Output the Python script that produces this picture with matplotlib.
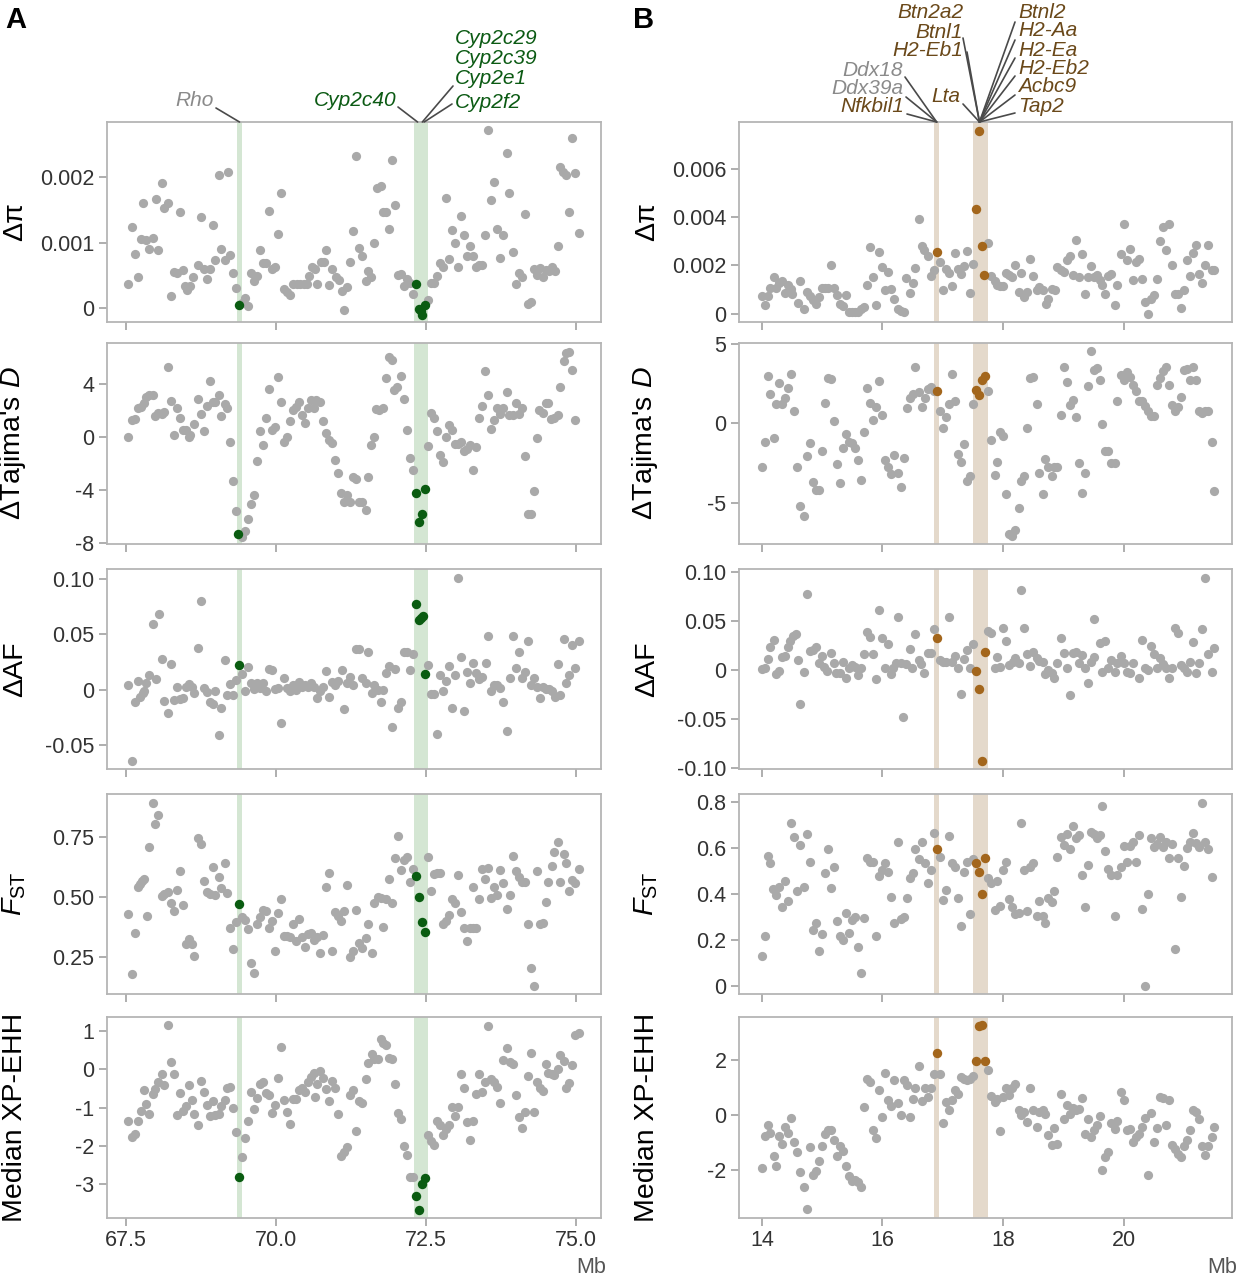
import matplotlib
matplotlib.use('Agg')
import matplotlib.pyplot as plt

plt.rcParams['font.family'] = ['Liberation Sans', 'DejaVu Sans']
plt.rcParams['mathtext.fontset'] = 'custom'
plt.rcParams['mathtext.rm'] = 'Liberation Sans'
plt.rcParams['mathtext.it'] = 'Liberation Sans:italic'
plt.rcParams['axes.unicode_minus'] = False

# ---------------- data: panel A (chr7, Mb) ----------------
# delta pi in units of 1e-3
dpi_a = [(67.53,0.36),(67.59,1.24),(67.64,0.83),(67.69,0.47),(67.74,1.05),(67.78,1.61),(67.83,1.04),(67.88,0.90),(67.94,1.07),(67.99,1.66),
         (68.03,0.88),(68.09,1.91),(68.13,1.52),(68.19,1.60),(68.24,0.19),(68.29,0.55),(68.34,0.54),(68.39,1.46),(68.44,0.58),(68.48,0.33),
         (68.52,0.28),(68.57,0.33),(68.62,0.47),(68.69,0.65),(68.74,1.39),(68.79,0.59),(68.84,0.44),(68.89,0.59),(68.94,1.27),(68.98,0.74),
         (69.04,2.03),(69.08,0.90),(69.14,0.74),(69.19,2.07),(69.23,0.81),(69.28,0.54),(69.33,0.30),(69.43,0.08),(69.48,0.15),(69.54,0.03),
         (69.59,0.54),(69.64,0.41),(69.69,0.49),(69.74,0.88),(69.79,0.69),(69.84,0.69),(69.89,1.48),(69.94,0.60),(69.99,0.63),(70.04,1.13),
         (70.09,1.75),(70.14,0.29),(70.19,0.24),(70.24,0.20),(70.29,0.36),(70.35,0.36),(70.40,0.37),(70.46,0.37),(70.51,0.36),(70.55,0.49),
         (70.60,0.63),(70.65,0.59),(70.69,0.37),(70.75,0.71),(70.80,0.70),(70.84,0.88),(70.89,0.35),(70.94,0.59),(71.00,0.48),(71.05,0.43),
         (71.10,0.26),(71.14,-0.03),(71.19,0.32),(71.24,0.71),(71.29,1.18),(71.34,2.32),(71.39,0.91),(71.44,0.79),(71.50,0.42),(71.54,0.56),
         (71.59,0.47),(71.64,0.99),(71.69,1.83),(71.75,1.86),(71.79,1.47),(71.84,1.46),(71.89,1.21),(71.94,2.26),(71.99,1.58),(72.04,0.50),
         (72.09,0.52),(72.14,0.34),(72.19,0.44),(72.24,0.38),(72.29,0.22),(72.53,0.13),(72.58,0.38),(72.63,0.38),(72.68,0.49),(72.74,0.69),
         (72.79,0.62),(72.84,1.68),(72.89,0.75),(72.94,1.19),(72.99,0.99),(73.04,0.62),(73.09,1.41),(73.14,1.12),(73.19,0.80),(73.24,0.94),
         (73.29,0.79),(73.34,0.62),(73.39,0.66),(73.44,0.66),(73.49,1.12),(73.54,2.72),(73.59,1.65),(73.64,1.92),(73.69,1.21),(73.74,0.76),
         (73.79,1.12),(73.85,2.37),(73.89,1.76),(73.95,0.85),(74.00,0.36),(74.05,0.53),(74.10,0.48),(74.15,1.44),(74.20,0.06),(74.25,0.09),
         (74.31,0.60),(74.36,0.51),(74.41,0.61),(74.46,0.48),(74.51,0.58),(74.56,0.56),(74.61,0.63),(74.66,0.57),(74.70,0.95),(74.74,2.16),
         (74.79,2.08),(74.84,2.03),(74.89,1.46),(74.94,2.60),(74.99,2.06),(75.05,1.14)]
dpi_a_hl = [(69.38,0.04),(72.34,0.37),(72.38,-0.02),(72.41,-0.05),(72.43,-0.10),(72.48,0.04)]

tajd_a = [(67.53,0.0),(67.59,1.31),(67.64,1.39),(67.69,2.22),(67.74,2.27),(67.79,2.58),(67.83,3.03),(67.88,3.16),(67.94,3.21),(67.98,1.57),
          (68.03,1.82),(68.09,1.77),(68.13,1.89),(68.19,5.28),(68.24,2.73),(68.29,0.13),(68.34,2.17),(68.39,1.46),(68.44,0.56),(68.49,0.51),
          (68.54,0.0),(68.57,0.20),(68.63,0.96),(68.69,2.88),(68.74,1.77),(68.79,0.45),(68.84,2.32),(68.89,4.24),(68.94,2.65),(68.98,2.65),
          (69.04,3.16),(69.08,1.62),(69.14,2.53),(69.18,2.22),(69.23,-0.38),(69.28,-3.28),(69.33,-5.56),(69.43,-7.50),(69.48,-7.07),(69.53,-6.19),
          (69.59,-5.05),(69.64,-4.37),(69.69,-1.77),(69.74,0.45),(69.79,-0.56),(69.84,1.46),(69.89,3.64),(69.94,0.56),(69.99,0.76),(70.04,4.52),
          (70.09,2.65),(70.13,-0.38),(70.18,0.0),(70.24,1.19),(70.29,2.07),(70.34,2.27),(70.38,2.65),(70.44,1.64),(70.48,1.06),(70.53,2.20),
          (70.59,2.83),(70.63,2.22),(70.67,2.78),(70.73,2.65),(70.78,1.21),(70.83,0.33),(70.88,-0.20),(70.93,-0.45),(70.98,-1.72),(71.04,-2.73),
          (71.08,-4.17),(71.13,-4.92),(71.18,-4.34),(71.23,-4.92),(71.28,-2.98),(71.33,-3.16),(71.38,-4.92),(71.43,-4.92),(71.50,-5.48),(71.54,-3.03),
          (71.58,-0.56),(71.64,0.05),(71.67,2.10),(71.72,2.02),(71.79,2.17),(71.83,4.49),(71.89,6.01),(71.94,5.81),(71.97,3.59),(72.01,3.79),
          (72.09,4.60),(72.14,2.91),(72.19,0.51),(72.24,-1.59),(72.29,-2.45),(72.54,-0.63),(72.59,1.82),(72.64,1.46),(72.69,0.45),(72.74,-1.34),
          (72.79,-1.89),(72.84,0.0),(72.89,0.93),(72.94,0.51),(72.99,-0.51),(73.04,-0.51),(73.09,-0.38),(73.14,-1.06),(73.19,-0.88),(73.24,-0.58),
          (73.29,-2.47),(73.34,-0.71),(73.39,1.46),(73.44,2.32),(73.49,5.0),(73.54,3.16),(73.59,0.61),(73.64,1.26),(73.69,2.20),(73.74,1.77),
          (73.79,2.22),(73.85,3.41),(73.89,1.67),(73.95,1.67),(74.00,2.58),(74.05,1.77),(74.10,2.22),(74.15,-1.39),(74.20,-5.81),(74.25,-5.81),
          (74.31,-4.04),(74.35,-0.08),(74.39,2.07),(74.45,1.82),(74.50,2.58),(74.54,2.58),(74.59,1.39),(74.64,1.46),(74.70,1.67),(74.74,3.79),
          (74.80,5.76),(74.84,6.36),(74.89,6.41),(74.94,5.10),(74.99,1.26)]
tajd_a_hl = [(69.37,-7.27),(72.34,-4.17),(72.38,-6.41),(72.43,-5.76),(72.49,-3.89)]

daf_a = [(67.53,0.0045),(67.59,-0.064),(67.64,-0.011),(67.69,0.008),(67.73,-0.006),(67.78,-0.003),(67.80,-0.001),(67.83,0.006),(67.88,0.013),(67.94,0.059),
         (67.99,0.010),(68.04,0.068),(68.09,0.028),(68.13,-0.010),(68.19,-0.021),(68.24,0.023),(68.29,-0.009),(68.34,0.0024),(68.39,-0.008),(68.44,-0.007),
         (68.49,0.0024),(68.54,0.0057),(68.59,0.003),(68.63,-0.003),(68.69,0.038),(68.74,0.080),(68.79,0.002),(68.84,-0.0015),(68.89,-0.0105),(68.94,-0.013),
         (68.98,-0.001),(69.04,-0.041),(69.08,-0.0165),(69.14,0.027),(69.18,-0.005),(69.23,0.005),(69.28,-0.005),(69.33,0.0087),(69.43,0.0144),(69.48,-0.001),
         (69.53,0.021),(69.58,0.006),(69.64,0.001),(69.69,0.006),(69.74,0.002),(69.79,0.006),(69.84,-0.001),(69.89,0.0186),(69.94,0.018),(69.99,0.001),
         (70.04,0.002),(70.09,-0.030),(70.14,0.0105),(70.18,0.002),(70.24,-0.001),(70.29,0.0045),(70.34,0.0),(70.38,0.007),(70.44,0.003),(70.49,0.0045),
         (70.53,0.0024),(70.59,0.0066),(70.63,0.0024),(70.69,-0.007),(70.73,-0.001),(70.78,0.003),(70.84,0.017),(70.88,-0.006),(70.94,0.0075),(70.98,0.004),
         (71.04,0.008),(71.10,0.018),(71.14,-0.0175),(71.19,0.006),(71.24,0.0114),(71.29,0.0045),(71.33,0.037),(71.39,0.0367),(71.44,0.0105),(71.50,0.006),
         (71.54,0.0346),(71.60,-0.0024),(71.64,0.0045),(71.70,0.0),(71.75,-0.0105),(71.79,0.0),(71.84,0.015),(71.89,0.0216),(71.94,-0.033),(71.99,0.019),
         (72.04,-0.0165),(72.09,-0.0105),(72.13,0.0346),(72.19,0.034),(72.24,0.018),(72.29,0.0325),(72.54,0.0226),(72.59,-0.004),(72.64,-0.004),(72.68,-0.040),
         (72.74,0.0135),(72.79,-0.0006),(72.84,0.008),(72.89,0.022),(72.94,-0.0165),(72.99,0.013),(73.04,0.101),(73.09,0.030),(73.14,-0.0186),(73.19,0.016),
         (73.24,0.0066),(73.29,0.024),(73.34,0.015),(73.39,0.0096),(73.44,0.0114),(73.50,0.024),(73.54,0.0487),(73.59,-0.001),(73.64,0.0045),(73.69,0.0045),
         (73.74,0.002),(73.79,-0.0105),(73.85,-0.037),(73.90,0.0105),(73.95,0.0487),(74.00,0.0195),(74.05,0.034),(74.10,0.011),(74.15,0.0165),(74.20,0.0445),
         (74.25,0.0045),(74.30,0.011),(74.35,0.003),(74.40,-0.0075),(74.46,0.003),(74.50,0.001),(74.56,0.001),(74.60,-0.0006),(74.65,-0.006),(74.70,0.0234),
         (74.74,-0.0045),(74.80,0.0457),(74.84,0.006),(74.89,0.013),(74.94,0.0406),(74.99,0.0195),(75.05,0.044)]
daf_a_hl = [(69.38,0.0226),(72.34,0.0776),(72.38,0.063),(72.41,0.065),(72.45,0.067),(72.49,0.0144)]

fst_a = [(67.53,0.43),(67.59,0.18),(67.64,0.35),(67.69,0.543),(67.73,0.552),(67.76,0.568),(67.80,0.575),(67.84,0.423),(67.88,0.706),(67.94,0.891),
         (67.98,0.802),(68.03,0.838),(68.09,0.504),(68.13,0.512),(68.19,0.522),(68.24,0.477),(68.29,0.442),(68.34,0.529),(68.39,0.609),(68.44,0.465),
         (68.49,0.305),(68.54,0.325),(68.59,0.305),(68.63,0.257),(68.69,0.746),(68.74,0.72),(68.79,0.568),(68.84,0.519),(68.89,0.512),(68.94,0.626),
         (68.98,0.508),(69.04,0.584),(69.08,0.536),(69.14,0.642),(69.18,0.515),(69.23,0.373),(69.28,0.283),(69.33,0.398),(69.43,0.416),(69.48,0.405),
         (69.53,0.367),(69.58,0.225),(69.64,0.186),(69.69,0.388),(69.74,0.418),(69.79,0.446),(69.84,0.442),(69.89,0.370),(69.94,0.40),(69.99,0.278),
         (70.04,0.432),(70.09,0.492),(70.14,0.338),(70.19,0.338),(70.24,0.336),(70.29,0.388),(70.34,0.319),(70.38,0.407),(70.44,0.333),(70.49,0.294),
         (70.53,0.347),(70.59,0.352),(70.63,0.322),(70.69,0.336),(70.73,0.269),(70.78,0.343),(70.84,0.54),(70.88,0.601),(70.94,0.276),(70.98,0.439),
         (71.04,0.421),(71.09,0.402),(71.14,0.443),(71.19,0.55),(71.24,0.253),(71.29,0.278),(71.33,0.446),(71.39,0.308),(71.44,0.287),(71.50,0.329),
         (71.54,0.387),(71.60,0.269),(71.64,0.474),(71.70,0.501),(71.75,0.494),(71.79,0.374),(71.84,0.49),(71.89,0.575),(71.94,0.477),(71.99,0.66),
         (72.04,0.753),(72.09,0.612),(72.14,0.653),(72.19,0.667),(72.24,0.564),(72.29,0.615),(72.54,0.664),(72.59,0.526),(72.64,0.595),(72.68,0.598),
         (72.74,0.601),(72.79,0.388),(72.84,0.40),(72.89,0.425),(72.94,0.492),(72.99,0.477),(73.04,0.591),(73.09,0.439),(73.14,0.370),(73.19,0.318),
         (73.24,0.370),(73.29,0.370),(73.34,0.370),(73.29,0.54),(73.39,0.492),(73.44,0.615),(73.49,0.573),(73.54,0.619),(73.59,0.494),(73.64,0.54),
         (73.69,0.508),(73.74,0.612),(73.79,0.557),(73.85,0.449),(73.90,0.508),(73.95,0.67),(74.00,0.608),(74.05,0.584),(74.10,0.564),(74.15,0.564),
         (74.20,0.388),(74.25,0.207),(74.30,0.133),(74.35,0.609),(74.40,0.387),(74.45,0.391),(74.50,0.481),(74.54,0.564),(74.60,0.628),(74.64,0.688),
         (74.70,0.729),(74.74,0.564),(74.80,0.677),(74.84,0.64),(74.89,0.525),(74.94,0.57),(74.99,0.557),(75.05,0.615)]
fst_a_hl = [(69.38,0.471),(72.34,0.588),(72.39,0.501),(72.43,0.398),(72.49,0.356)]

xpehh_a = [(67.53,-1.36),(67.59,-1.78),(67.64,-1.68),(67.69,-1.34),(67.74,-1.10),(67.79,-0.54),(67.83,-0.90),(67.88,-1.18),(67.94,-0.64),(67.98,-0.51),
           (68.03,-0.33),(68.09,-0.11),(68.13,-0.40),(68.19,1.15),(68.24,0.18),(68.29,-0.13),(68.34,-1.19),(68.39,-0.62),(68.44,-1.08),(68.49,-0.97),
           (68.54,-0.42),(68.59,-0.80),(68.63,-1.17),(68.69,-1.45),(68.74,-0.31),(68.79,-0.60),(68.84,-0.92),(68.89,-1.21),(68.94,-0.83),(68.98,-1.19),
           (69.04,-1.17),(69.08,-0.97),(69.14,-0.80),(69.18,-0.48),(69.23,-0.46),(69.28,-1.02),(69.33,-1.63),(69.43,-2.29),(69.48,-1.80),(69.53,-1.36),
           (69.58,-0.60),(69.64,-1.04),(69.69,-0.75),(69.74,-0.39),(69.79,-0.33),(69.84,-0.62),(69.89,-0.68),(69.94,-1.15),(69.99,-0.93),(70.04,-0.23),
           (70.09,0.59),(70.14,-0.80),(70.19,-1.12),(70.24,-1.43),(70.29,-0.77),(70.34,-0.77),(70.38,-0.55),(70.44,-0.48),(70.49,-0.60),(70.53,-0.33),
           (70.59,-0.20),(70.63,-0.10),(70.65,-0.73),(70.69,-0.38),(70.74,-0.05),(70.78,-0.22),(70.84,-0.51),(70.88,-0.83),(70.94,-0.31),(70.98,-0.48),
           (71.04,-1.17),(71.09,-2.26),(71.14,-2.15),(71.19,-2.03),(71.24,-0.68),(71.29,-0.55),(71.34,-1.61),(71.39,-0.82),(71.44,-0.89),(71.50,-0.26),
           (71.54,0.17),(71.60,0.39),(71.64,0.28),(71.70,0.28),(71.75,0.79),(71.79,0.68),(71.84,0.63),(71.89,0.31),(71.94,0.28),(71.99,-0.38),
           (72.04,-1.15),(72.09,-1.31),(72.14,-2.0),(72.19,-2.25),(72.24,-2.83),(72.29,-2.81),(72.54,-1.72),(72.59,-1.87),(72.64,-1.97),(72.68,-1.34),
           (72.74,-1.45),(72.78,-1.71),(72.84,-1.56),(72.89,-1.45),(72.94,-0.99),(72.99,-1.21),(73.04,-0.99),(73.09,-0.11),(73.14,-0.48),(73.19,-1.39),
           (73.24,-1.84),(73.29,-1.36),(73.34,-0.64),(73.39,-0.11),(73.44,-0.58),(73.49,-0.33),(73.54,1.13),(73.59,-0.26),(73.64,-0.32),(73.69,-0.45),
           (73.74,-0.89),(73.79,0.25),(73.85,0.57),(73.90,0.19),(73.95,0.13),(74.00,-0.68),(74.05,-1.24),(74.10,-1.54),(74.15,-1.12),(74.20,-0.18),
           (74.25,0.44),(74.30,-1.12),(74.36,-0.33),(74.40,-0.49),(74.45,-0.57),(74.50,0.15),(74.54,-0.10),(74.60,-0.11),(74.64,-0.16),(74.70,0.02),
           (74.74,0.37),(74.80,0.21),(74.84,-0.48),(74.89,-0.36),(74.94,0.11),(74.99,0.89),(75.05,0.96)]
xpehh_a_hl = [(69.39,-2.82),(72.34,-3.32),(72.39,-3.67),(72.44,-2.99),(72.49,-2.85)]

# ---------------- data: panel B (chr17, Mb) ----------------
dpi_b = [(14.00,0.72),(14.05,0.34),(14.10,0.72),(14.14,1.08),(14.20,1.52),(14.24,1.08),(14.29,1.27),(14.33,1.35),(14.38,0.86),(14.43,1.17),
         (14.49,1.03),(14.50,0.83),(14.60,0.44),(14.64,1.35),(14.70,0.21),(14.75,0.90),(14.79,0.72),(14.85,0.58),(14.90,0.41),(14.94,0.69),
         (15.00,1.08),(15.04,1.08),(15.10,1.08),(15.15,2.00),(15.19,1.08),(15.24,0.76),(15.29,0.39),(15.34,0.30),(15.40,0.76),(15.44,0.07),
         (15.50,0.07),(15.54,0.07),(15.59,0.07),(15.65,0.21),(15.70,0.28),(15.74,1.17),(15.80,2.76),(15.84,1.52),(15.90,0.34),(15.95,2.55),
         (15.99,1.93),(16.05,0.97),(16.10,1.72),(16.14,1.03),(16.20,0.62),(16.25,0.21),(16.30,0.11),(16.35,0.07),(16.39,1.48),(16.45,0.86),
         (16.50,1.27),(16.54,1.89),(16.60,3.93),(16.65,2.79),(16.69,2.65),(16.75,2.37),(16.80,1.54),(16.85,1.82),(16.95,2.14),(17.00,0.97),
         (17.06,1.86),(17.10,1.68),(17.15,1.13),(17.20,2.51),(17.25,1.86),(17.30,1.65),(17.35,1.96),(17.40,2.59),(17.46,0.86),(17.50,2.04),
         (17.75,2.92),(17.80,1.54),(17.86,1.35),(17.90,1.17),(17.95,1.13),(18.00,1.13),(18.05,1.68),(18.10,1.59),(18.15,1.52),(18.20,2.00),
         (18.26,0.90),(18.30,1.68),(18.35,0.69),(18.40,0.90),(18.45,2.28),(18.50,1.54),(18.56,0.99),(18.60,1.10),(18.66,0.97),(18.71,0.41),
         (18.75,0.62),(18.81,1.03),(18.86,0.97),(18.90,1.93),(18.96,1.79),(19.01,1.72),(19.06,2.23),(19.11,2.37),(19.16,1.59),(19.21,3.03),
         (19.26,1.52),(19.31,2.48),(19.36,0.83),(19.41,1.52),(19.46,1.96),(19.51,1.52),(19.56,1.59),(19.61,1.41),(19.65,1.17),(19.70,0.83),
         (19.75,1.54),(19.80,1.65),(19.86,0.34),(19.90,1.17),(19.95,2.45),(20.01,3.70),(20.05,2.21),(20.10,2.69),(20.16,1.41),(20.20,2.14),
         (20.26,2.28),(20.30,1.45),(20.35,0.48),(20.41,0.0),(20.45,0.62),(20.50,0.76),(20.56,1.45),(20.60,3.01),(20.66,3.59),(20.70,2.62),
         (20.75,3.70),(20.81,2.00),(20.85,0.83),(20.90,0.83),(20.96,0.25),(21.00,0.97),(21.06,2.21),(21.10,1.54),(21.15,2.51),(21.21,2.83),
         (21.25,1.65),(21.30,1.27),(21.36,2.00),(21.40,2.83),(21.46,1.79),(21.50,1.82)]
dpi_b_hl = [(16.90,2.55),(17.55,4.34),(17.60,7.56),(17.65,2.79),(17.69,1.59)]

tajd_b = [(14.00,-2.78),(14.05,-1.20),(14.10,2.95),(14.14,1.86),(14.20,-0.95),(14.24,1.22),(14.29,2.53),(14.33,1.22),(14.39,1.58),(14.44,2.22),
          (14.49,3.10),(14.54,0.74),(14.59,-2.74),(14.64,-5.21),(14.70,-5.86),(14.75,-2.05),(14.79,-1.22),(14.85,-3.69),(14.90,-4.18),(14.95,-4.22),
          (15.00,-1.73),(15.04,1.27),(15.10,2.85),(15.14,2.81),(15.19,0.17),(15.25,-2.57),(15.29,-3.76),(15.34,-1.58),(15.39,-0.68),(15.44,-1.16),
          (15.49,-1.27),(15.54,-1.58),(15.59,-2.32),(15.65,-3.59),(15.70,-0.53),(15.74,2.22),(15.80,1.27),(15.85,0.21),(15.90,1.05),(15.94,2.68),
          (15.99,0.53),(16.05,-2.32),(16.10,-2.74),(16.14,-3.21),(16.20,-2.00),(16.25,-3.16),(16.30,-4.01),(16.35,-2.17),(16.40,0.99),(16.45,1.58),
          (16.50,1.84),(16.54,3.54),(16.60,1.94),(16.65,1.01),(16.70,1.58),(16.75,2.15),(16.80,2.28),(16.85,2.00),(16.95,0.74),(17.00,-0.32),
          (17.06,0.42),(17.10,1.22),(17.15,3.10),(17.20,1.43),(17.25,-1.94),(17.30,-2.43),(17.35,-1.31),(17.40,-3.63),(17.46,-3.33),(17.50,1.22),
          (17.75,2.05),(17.80,-1.05),(17.86,-3.27),(17.90,-2.43),(17.95,-0.53),(18.00,-0.80),(18.05,-4.43),(18.10,-6.96),(18.15,-7.07),(18.20,-6.71),
          (18.26,-5.32),(18.30,-3.65),(18.35,-3.33),(18.40,-0.32),(18.45,2.85),(18.50,2.91),(18.56,1.22),(18.60,-3.12),(18.66,-4.43),(18.70,-2.22),
          (18.75,-2.74),(18.81,-3.31),(18.85,-2.74),(18.90,-2.74),(18.96,0.53),(19.01,3.52),(19.06,2.59),(19.11,1.16),(19.16,1.48),(19.21,0.42),
          (19.26,-2.53),(19.31,-4.37),(19.36,-3.16),(19.41,2.32),(19.46,4.54),(19.51,3.33),(19.56,3.48),(19.61,2.70),(19.65,-0.04),(19.70,-1.75),
          (19.75,-1.75),(19.80,-2.53),(19.86,-2.49),(19.90,1.43),(19.95,3.06),(20.01,2.74),(20.05,3.21),(20.10,2.89),(20.16,2.43),(20.20,2.00),
          (20.26,1.43),(20.30,1.43),(20.35,1.10),(20.41,0.74),(20.45,0.46),(20.50,0.46),(20.56,2.43),(20.60,2.85),(20.66,3.27),(20.70,3.54),
          (20.75,2.43),(20.81,1.16),(20.85,0.74),(20.90,1.01),(20.96,1.65),(21.00,3.33),(21.06,3.42),(21.10,2.74),(21.15,3.54),(21.21,2.74),
          (21.25,0.74),(21.30,0.63),(21.36,0.74),(21.40,0.74),(21.46,-1.16),(21.50,-4.26)]
tajd_b_hl = [(16.90,2.0),(17.55,2.07),(17.60,1.75),(17.65,2.70),(17.70,3.0)]

daf_b = [(14.00,0.0014),(14.05,0.002),(14.10,0.0116),(14.14,0.024),(14.20,0.031),(14.24,-0.004),(14.29,-0.0007),(14.33,0.014),(14.39,0.015),(14.43,0.024),
         (14.47,0.030),(14.51,0.035),(14.56,0.037),(14.60,0.0105),(14.64,-0.0347),(14.70,-0.0014),(14.75,0.078),(14.79,0.0197),(14.85,0.0207),(14.90,0.024),
         (14.94,0.0071),(14.99,0.015),(15.03,0.0037),(15.08,-0.0007),(15.15,0.018),(15.19,0.0071),(15.23,-0.0024),(15.29,-0.003),(15.34,0.0088),(15.39,-0.008),
         (15.44,0.002),(15.49,0.0054),(15.54,0.0037),(15.59,-0.0048),(15.65,0.002),(15.69,0.0163),(15.74,0.0388),(15.80,0.034),(15.84,0.0163),(15.90,-0.009),
         (15.94,0.0615),(15.99,0.033),(16.04,0.0027),(16.10,0.0265),(16.14,-0.004),(16.18,0.0027),(16.23,0.0071),(16.25,0.0547),(16.30,0.0071),(16.34,-0.048),
         (16.39,0.0065),(16.45,0.0218),(16.49,0.0027),(16.54,0.037),(16.60,0.0105),(16.64,0.0061),(16.69,-0.003),(16.75,0.018),(16.80,0.018),(16.85,0.042),
         (16.95,0.0105),(17.00,0.0088),(17.06,0.0082),(17.10,0.054),(17.15,0.0082),(17.20,0.015),(17.25,0.0027),(17.30,-0.0245),(17.35,0.0116),(17.40,0.0207),
         (17.46,0.0027),(17.50,0.0265),(17.75,0.040),(17.80,0.038),(17.86,0.002),(17.90,0.014),(17.95,0.0037),(18.00,0.043),(18.05,0.030),(18.10,0.0054),
         (18.16,0.0088),(18.20,0.013),(18.26,0.0071),(18.30,0.082),(18.35,0.0435),(18.40,0.0163),(18.45,0.0048),(18.50,0.019),(18.56,0.0122),(18.60,0.0095),
         (18.66,0.0082),(18.70,-0.004),(18.75,0.0003),(18.81,-0.003),(18.85,-0.008),(18.90,0.0071),(18.96,0.0326),(19.01,0.018),(19.06,0.0027),(19.11,-0.025),
         (19.16,0.018),(19.21,0.019),(19.26,0.0071),(19.31,0.0156),(19.36,0.002),(19.41,-0.013),(19.46,0.0088),(19.51,0.052),(19.51,0.014),(19.61,0.0275),
         (19.65,-0.002),(19.70,0.030),(19.75,0.002),(19.80,0.0105),(19.86,-0.0014),(19.90,0.0071),(19.95,0.015),(20.01,0.0071),(20.05,-0.0014),(20.10,-0.003),
         (20.16,0.0071),(20.26,-0.0075),(20.30,0.031),(20.35,0.002),(20.41,0.0003),(20.45,0.025),(20.50,0.017),(20.56,0.002),(20.60,0.013),(20.66,0.0061),
         (20.70,0.002),(20.75,-0.0075),(20.81,0.0027),(20.85,0.0435),(20.90,0.038),(20.96,0.0054),(21.00,0.002),(21.06,-0.0014),(21.10,0.0088),(21.15,0.0286),
         (21.21,-0.003),(21.25,0.0071),(21.30,0.042),(21.36,0.0945),(21.40,0.0163),(21.46,-0.002),(21.50,0.023)]
daf_b_hl = [(16.90,0.0333),(17.55,-0.0003),(17.60,-0.019),(17.65,-0.0925),(17.70,0.019)]

fst_b = [(14.00,0.130),(14.05,0.217),(14.10,0.564),(14.14,0.532),(14.19,0.421),(14.24,0.395),(14.28,0.428),(14.33,0.344),(14.39,0.457),(14.44,0.369),
         (14.49,0.706),(14.54,0.645),(14.59,0.412),(14.64,0.612),(14.70,0.431),(14.75,0.658),(14.79,0.540),(14.85,0.243),(14.90,0.275),(14.95,0.153),
         (15.00,0.226),(15.04,0.492),(15.10,0.593),(15.14,0.424),(15.19,0.515),(15.25,0.282),(15.29,0.217),(15.34,0.200),(15.39,0.315),(15.44,0.229),
         (15.49,0.286),(15.54,0.298),(15.59,0.171),(15.65,0.055),(15.70,0.297),(15.74,0.554),(15.80,0.540),(15.85,0.540),(15.90,0.217),(15.94,0.477),
         (15.99,0.503),(16.05,0.535),(16.10,0.496),(16.14,0.388),(16.20,0.275),(16.25,0.626),(16.30,0.289),(16.35,0.301),(16.40,0.380),(16.45,0.470),
         (16.50,0.492),(16.54,0.593),(16.60,0.550),(16.65,0.626),(16.70,0.535),(16.75,0.446),(16.80,0.503),(16.85,0.663),(16.95,0.561),(17.00,0.373),
         (17.06,0.417),(17.10,0.651),(17.15,0.535),(17.20,0.515),(17.25,0.380),(17.30,0.262),(17.35,0.496),(17.40,0.540),(17.46,0.311),(17.50,0.550),
         (17.75,0.467),(17.80,0.448),(17.86,0.330),(17.90,0.457),(17.95,0.347),(18.00,0.503),(18.05,0.537),(18.10,0.376),(18.15,0.341),(18.20,0.312),
         (18.26,0.315),(18.30,0.709),(18.35,0.503),(18.40,0.325),(18.45,0.515),(18.50,0.535),(18.56,0.304),(18.60,0.369),(18.66,0.304),(18.70,0.275),
         (18.75,0.380),(18.81,0.366),(18.85,0.412),(18.90,0.558),(18.96,0.645),(19.01,0.612),(19.06,0.658),(19.11,0.593),(19.16,0.694),(19.21,0.641),
         (19.26,0.655),(19.31,0.482),(19.36,0.344),(19.41,0.525),(19.46,0.670),(19.51,0.660),(19.56,0.641),(19.61,0.655),(19.65,0.781),(19.70,0.586),
         (19.75,0.506),(19.80,0.482),(19.86,0.304),(19.90,0.482),(19.95,0.515),(20.01,0.608),(20.05,0.540),(20.10,0.608),(20.16,0.626),(20.20,0.540),
         (20.26,0.655),(20.30,0.333),(20.35,0.0),(20.41,0.399),(20.45,0.641),(20.50,0.605),(20.56,0.616),(20.60,0.648),(20.66,0.602),(20.70,0.626),
         (20.75,0.554),(20.81,0.616),(20.85,0.159),(20.90,0.554),(20.96,0.388),(21.00,0.521),(21.06,0.597),(21.10,0.626),(21.15,0.663),(21.21,0.619),
         (21.25,0.605),(21.30,0.796),(21.36,0.626),(21.40,0.593),(21.46,0.472)]
fst_b_hl = [(16.90,0.593),(17.55,0.535),(17.60,0.496),(17.65,0.399),(17.70,0.554)]

xpehh_b = [(14.00,-1.94),(14.05,-0.76),(14.10,-0.37),(14.14,-0.67),(14.20,-1.52),(14.24,-1.88),(14.29,-0.76),(14.33,-1.06),(14.39,-0.45),(14.44,-0.67),
           (14.49,-0.11),(14.54,-1.0),(14.59,-1.35),(14.64,-2.10),(14.70,-2.65),(14.75,-3.45),(14.79,-1.16),(14.85,-2.19),(14.90,-2.07),(14.95,-1.68),
           (15.00,-1.15),(15.04,-0.70),(15.10,-0.55),(15.14,-0.57),(15.19,-0.92),(15.25,-1.49),(15.29,-1.13),(15.34,-1.31),(15.39,-1.86),(15.44,-2.23),
           (15.49,-2.42),(15.54,-2.37),(15.59,-2.47),(15.65,-2.62),(15.70,0.28),(15.74,1.32),(15.80,1.20),(15.85,-0.55),(15.90,-0.86),(15.94,0.92),
           (15.99,-0.09),(16.05,1.53),(16.10,0.55),(16.14,0.31),(16.20,1.26),(16.25,0.43),(16.30,0.0),(16.35,1.26),(16.40,1.08),(16.45,-0.09),
           (16.50,0.56),(16.54,0.99),(16.60,1.77),(16.65,0.50),(16.70,0.99),(16.75,0.65),(16.80,0.99),(16.85,1.50),(16.95,1.50),(17.00,-0.31),
           (17.06,0.46),(17.10,0.18),(17.15,0.55),(17.20,0.92),(17.25,0.77),(17.30,1.38),(17.35,1.30),(17.40,1.28),(17.46,1.30),(17.50,1.41),
           (17.75,1.63),(17.80,0.67),(17.86,0.46),(17.90,0.59),(17.95,-0.61),(18.00,0.65),(18.05,0.99),(18.10,0.71),(18.15,0.99),(18.20,1.14),
           (18.26,0.18),(18.30,-0.02),(18.35,0.10),(18.40,-0.27),(18.45,0.99),(18.50,0.16),(18.56,-0.43),(18.60,0.10),(18.66,0.16),(18.70,0.04),
           (18.75,-0.73),(18.81,-1.09),(18.85,-0.49),(18.90,-1.06),(18.96,0.75),(19.01,-0.15),(19.06,0.34),(19.11,0.04),(19.16,0.26),(19.21,0.16),
           (19.26,0.22),(19.31,0.62),(19.36,-0.70),(19.41,-0.15),(19.46,-0.82),(19.51,-0.57),(19.56,-0.39),(19.61,-0.06),(19.65,-2.02),(19.70,-1.55),
           (19.75,-1.37),(19.80,-0.31),(19.86,-0.51),(19.90,-0.23),(19.95,0.83),(20.01,0.55),(20.05,-0.57),(20.10,-0.51),(20.16,-1.0),(20.20,-0.82),
           (20.26,-0.70),(20.30,-0.45),(20.35,-0.11),(20.41,-2.20),(20.45,0.06),(20.50,-1.0),(20.56,-0.49),(20.60,0.65),(20.66,0.62),(20.70,-0.39),
           (20.75,0.53),(20.81,-1.09),(20.85,-1.25),(20.90,-1.43),(20.96,-1.53),(21.00,-1.15),(21.06,-0.92),(21.10,-0.57),(21.15,0.16),(21.21,0.10),
           (21.25,-0.15),(21.30,-1.15),(21.36,-1.46),(21.40,-1.15),(21.46,-0.82),(21.50,-0.43)]
xpehh_b_hl = [(16.90,2.24),(17.55,1.97),(17.60,3.24),(17.65,3.27),(17.70,1.97)]

# highlighted regions (Mb)
bands_a = [(69.35, 69.44), (72.30, 72.53)]
bands_b = [(16.85, 16.94), (17.50, 17.75)]

xticks_a = [67.5, 70.0, 72.5, 75.0]
xticks_b = [14, 16, 18, 20]

# ---------------- style ----------------
GRAY = '#a9a9a9'
GREEN = '#0a5c11'
BROWN = '#a3661c'
BAND_A = '#d4e6d3'
BAND_B = '#e4d9cb'
SPINE = '#b5b5b5'
TICKC = '#999999'
LABC = '#333333'
LINEC = '#4a4a4a'
GENE_GREEN = '#0b5a13'
GENE_BROWN = '#6a4819'
GENE_GRAY = '#8a8a8a'

W, H = 1236, 1280
fig = plt.figure(figsize=(W / 100, H / 100), dpi=100)

row_px = [(122, 322), (343, 544), (569, 769), (794, 994), (1017, 1218)]
col_px = [(107, 601), (739, 1232)]


def make_ax(col, row):
    l, r = col_px[col]
    t, b = row_px[row]
    return fig.add_axes([l / W, 1 - b / H, (r - l) / W, (b - t) / H])


def style(ax, ylim, yticks, ylabels, ylabel, xlim, xticks, xlabels, show_x):
    ax.set_xlim(*xlim)
    ax.set_ylim(*ylim)
    ax.set_yticks(yticks)
    ax.set_yticklabels(ylabels)
    ax.set_xticks(xticks)
    if show_x:
        ax.set_xticklabels(xlabels)
    else:
        ax.set_xticklabels([])
    for s in ax.spines.values():
        s.set_color(SPINE)
        s.set_linewidth(1.3)
    ax.tick_params(direction='out', length=6, width=1.1, color=TICKC,
                   labelcolor=LABC, labelsize=15.5, pad=3)
    ax.set_ylabel(ylabel, fontsize=20.5, color='black')
    ax.yaxis.set_label_coords(-0.16, 0.5)


def draw(ax, pts, hl, hl_color, bands, band_color, scale=1.0):
    for b0, b1 in bands:
        ax.axvspan(b0, b1, color=band_color, lw=0, zorder=1)
    ax.scatter([p[0] for p in pts], [p[1] * scale for p in pts], s=44,
               color=GRAY, linewidths=0, zorder=3)
    ax.scatter([p[0] for p in hl], [p[1] * scale for p in hl], s=46,
               color=hl_color, linewidths=0, zorder=4)


ylabels_txt = [u'\u0394\u03c0', u"\u0394Tajima's $\\mathit{D}$", u'\u0394AF',
               '$F_{\\mathrm{ST}}$', 'Median XP-EHH']

xlim_a = (67.18, 75.42)
xlim_b = (13.62, 21.80)

panels_a = [
    (dpi_a, dpi_a_hl, 1e-3, (-0.000213, 0.00284), [0, 0.001, 0.002], ['0', '0.001', '0.002']),
    (tajd_a, tajd_a_hl, 1.0, (-8.05, 7.1), [-8, -4, 0, 4], ['-8', '-4', '0', '4']),
    (daf_a, daf_a_hl, 1.0, (-0.0713, 0.109), [-0.05, 0, 0.05, 0.10], ['-0.05', '0', '0.05', '0.10']),
    (fst_a, fst_a_hl, 1.0, (0.098, 0.927), [0.25, 0.5, 0.75], ['0.25', '0.50', '0.75']),
    (xpehh_a, xpehh_a_hl, 1.0, (-3.89, 1.37), [-3, -2, -1, 0, 1], ['-3', '-2', '-1', '0', '1']),
]
panels_b = [
    (dpi_b, dpi_b_hl, 1e-3, (-0.000345, 0.00793), [0, 0.002, 0.004, 0.006], ['0', '0.002', '0.004', '0.006']),
    (tajd_b, tajd_b_hl, 1.0, (-7.6, 5.05), [-5, 0, 5], ['-5', '0', '5']),
    (daf_b, daf_b_hl, 1.0, (-0.1007, 0.1034), [-0.10, -0.05, 0, 0.05, 0.10], ['-0.10', '-0.05', '0', '0.05', '0.10']),
    (fst_b, fst_b_hl, 1.0, (-0.035, 0.833), [0, 0.2, 0.4, 0.6, 0.8], ['0', '0.2', '0.4', '0.6', '0.8']),
    (xpehh_b, xpehh_b_hl, 1.0, (-3.77, 3.57), [-2, 0, 2], ['-2', '0', '2']),
]

axes_a, axes_b = [], []
for i, (pts, hl, sc, yl, yt, ytl) in enumerate(panels_a):
    ax = make_ax(0, i)
    draw(ax, pts, hl, GREEN, bands_a, BAND_A, sc)
    style(ax, yl, yt, ytl, ylabels_txt[i], xlim_a, xticks_a,
          ['67.5', '70.0', '72.5', '75.0'], i == 4)
    axes_a.append(ax)
for i, (pts, hl, sc, yl, yt, ytl) in enumerate(panels_b):
    ax = make_ax(1, i)
    draw(ax, pts, hl, BROWN, bands_b, BAND_B, sc)
    style(ax, yl, yt, ytl, ylabels_txt[i], xlim_b, xticks_b,
          ['14', '16', '18', '20'], i == 4)
    axes_b.append(ax)

for ax in (axes_a[-1], axes_b[-1]):
    ax.text(1.01, -0.195, 'Mb', transform=ax.transAxes, ha='right', va='top',
            fontsize=15.5, color='#555555')

fig.text(5 / W, 1 - 6 / H, 'A', fontsize=21, fontweight='bold', va='top', ha='left')
fig.text(633 / W, 1 - 6 / H, 'B', fontsize=21, fontweight='bold', va='top', ha='left')


# ---------------- gene labels ----------------
def gene(px, py, txt, color, ha):
    fig.text(px / W, 1 - py / H, txt, fontsize=15, style='italic', color=color,
             ha=ha, va='center')


def leader(ax, xmb, px, py):
    ax.annotate('', xy=(xmb, 1.0), xycoords=('data', 'axes fraction'),
                xytext=(px / W, 1 - py / H), textcoords='figure fraction',
                arrowprops=dict(arrowstyle='-', color=LINEC, lw=1.2,
                                shrinkA=0, shrinkB=0),
                annotation_clip=False)


a0 = axes_a[0]
gene(214, 101, 'Rho', GENE_GRAY, 'right')
leader(a0, 69.39, 216, 108)
gene(396, 101, 'Cyp2c40', GENE_GREEN, 'right')
leader(a0, 72.36, 398, 107)
for py, txt in [(38, 'Cyp2c29'), (59, 'Cyp2c39'), (79, 'Cyp2e1'), (102, 'Cyp2f2')]:
    gene(455, py, txt, GENE_GREEN, 'left')
leader(a0, 72.44, 453, 86)
leader(a0, 72.47, 452, 104)

b0 = axes_b[0]
for py, txt in [(12, 'Btn2a2'), (32, 'Btnl1'), (50, 'H2-Eb1')]:
    gene(963, py, txt, GENE_BROWN, 'right')
gene(903, 70, 'Ddx18', GENE_GRAY, 'right')
gene(903, 89, 'Ddx39a', GENE_GRAY, 'right')
gene(904, 107, 'Nfkbil1', GENE_BROWN, 'right')
gene(960, 97, 'Lta', GENE_BROWN, 'right')
for py, txt in [(12, 'Btnl2'), (30, 'H2-Aa'), (50, 'H2-Ea'), (68, 'H2-Eb2'), (87, 'Acbc9'), (106, 'Tap2')]:
    gene(1018, py, txt, GENE_BROWN, 'left')

for px, py in [(905, 77), (906, 97), (907, 114)]:
    leader(b0, 16.90, px, py)
for px, py in [(963, 38), (967, 52), (963, 104)]:
    leader(b0, 17.61, px, py)
for py in [22, 40, 58, 76, 95, 113]:
    leader(b0, 17.61, 1015, py)

fig.savefig('out.png', dpi=100)
